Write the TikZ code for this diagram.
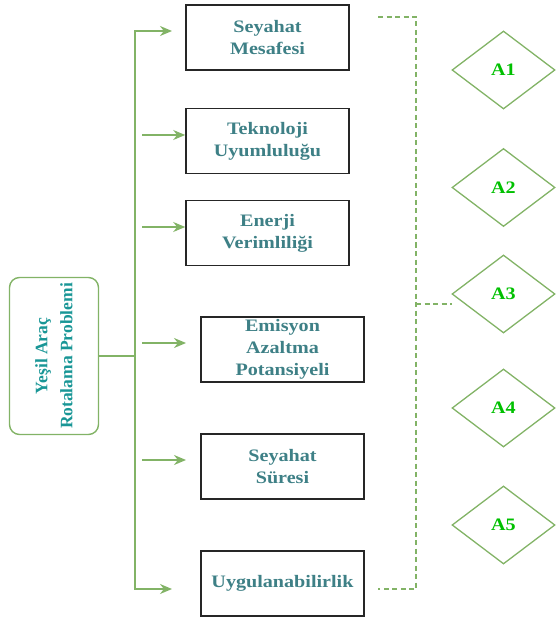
\documentclass[tikz,border=0pt]{standalone}
\usepackage{fontspec}
\setmainfont{Liberation Serif}
\newfontfamily\widefont{Liberation Serif}[FakeStretch=1.15]
\usetikzlibrary{shapes.geometric,arrows.meta}
\definecolor{linegreen}{HTML}{82B366}
\definecolor{labelgreen}{HTML}{00C000}
\definecolor{crittext}{RGB}{62,128,134}
\definecolor{probtext}{RGB}{25,150,150}
\tikzstyle{crit}=[rectangle, draw=black!85, line width=1.6pt, minimum width=163pt, minimum height=65pt, inner sep=0pt, align=center, text=crittext, font=\widefont\bfseries\fontsize{17.5}{22}\selectfont]
\tikzstyle{alt}=[diamond, draw=linegreen, line width=1.3pt, minimum width=103pt, minimum height=78pt, inner sep=0pt, text=labelgreen, font=\widefont\bfseries\fontsize{17.5}{20}\selectfont]
\tikzstyle{prob}=[rectangle, rounded corners=10pt, draw=linegreen, line width=1.4pt, minimum width=157pt, minimum height=89pt, inner sep=0pt, rotate=90, align=center, text=probtext, font=\bfseries\fontsize{17.5}{25}\selectfont]
\tikzstyle{edge}=[draw=linegreen, line width=1.4pt, -{Stealth[length=12pt,width=10pt]}]
\tikzstyle{trunk}=[draw=linegreen, line width=1.4pt, {Stealth[length=12pt,width=10pt]}-{Stealth[length=12pt,width=10pt]}]
\tikzstyle{link}=[draw=linegreen, line width=1.4pt]
\tikzstyle{dlink}=[draw=linegreen, line width=1.2pt, dash pattern=on 5pt off 3.5pt]

\begin{document}
\begin{tikzpicture}[x=1pt, y=-1pt]
			\useasboundingbox (0,0) rectangle (555,617);

			%The problem
			\draw (54,356) node[prob] (prob) {Yeşil Araç\\Rotalama Problemi};

			%The criteria
			\draw (267.5,37.5) node[crit] (crit1) {Seyahat\\Mesafesi};
			\draw (267.5,141) node[crit] (crit2) {Teknoloji\\Uyumluluğu};
			\draw (267.5,233) node[crit] (crit3) {Enerji\\Verimliliği};
			\draw (282.5,349.5) node[crit] (crit4) {Emisyon\\Azaltma\\Potansiyeli};
			\draw (282.5,466.5) node[crit] (crit5) {Seyahat\\Süresi};
			\draw (282.5,583.5) node[crit] (crit6) {Uygulanabilirlik};

			%The alternatives
			\draw (503.5,70) node[alt] (a1) {A1};
			\draw (503.5,187.5) node[alt] (a2) {A2};
			\draw (503.5,294) node[alt] (a3) {A3};
			\draw (503.5,408) node[alt] (a4) {A4};
			\draw (503.5,525) node[alt] (a5) {A5};

			%The tree
			\coordinate (tr-top) at (135,31);
			\coordinate (tr-mid) at (135,356);
			\coordinate (tr-bot) at (135,589);
			\coordinate (in1) at (172,31);
			\coordinate (in6) at (172,589);
			\draw[link] (prob) -- (tr-mid);
			\draw[trunk] (in1) -- (tr-top) -- (tr-bot) -- (in6);

			%The loose arrows
			\coordinate (out2) at (142,135);
			\coordinate (out3) at (142,227);
			\coordinate (out4) at (142,343);
			\coordinate (out5) at (142,460);
			\coordinate (in4) at (186,343);
			\coordinate (in5) at (186,460);
			\draw[edge] (out2) -- (crit2.west |- out2);
			\draw[edge] (out3) -- (crit3.west |- out3);
			\draw[edge] (out4) -- (in4);
			\draw[edge] (out5) -- (in5);

			%The dashed bracket
			\coordinate (d-top) at (378,17);
			\coordinate (d-tr) at (416,17);
			\coordinate (d-br) at (416,589);
			\coordinate (d-bot) at (378,589);
			\coordinate (d-mid) at (416,304);
			\coordinate (d-a3) at (452,304);
			\draw[dlink] (d-top) -- (d-tr) -- (d-br) -- (d-bot);
			\draw[dlink] (d-mid) -- (d-a3);
		\end{tikzpicture}
\end{document}
